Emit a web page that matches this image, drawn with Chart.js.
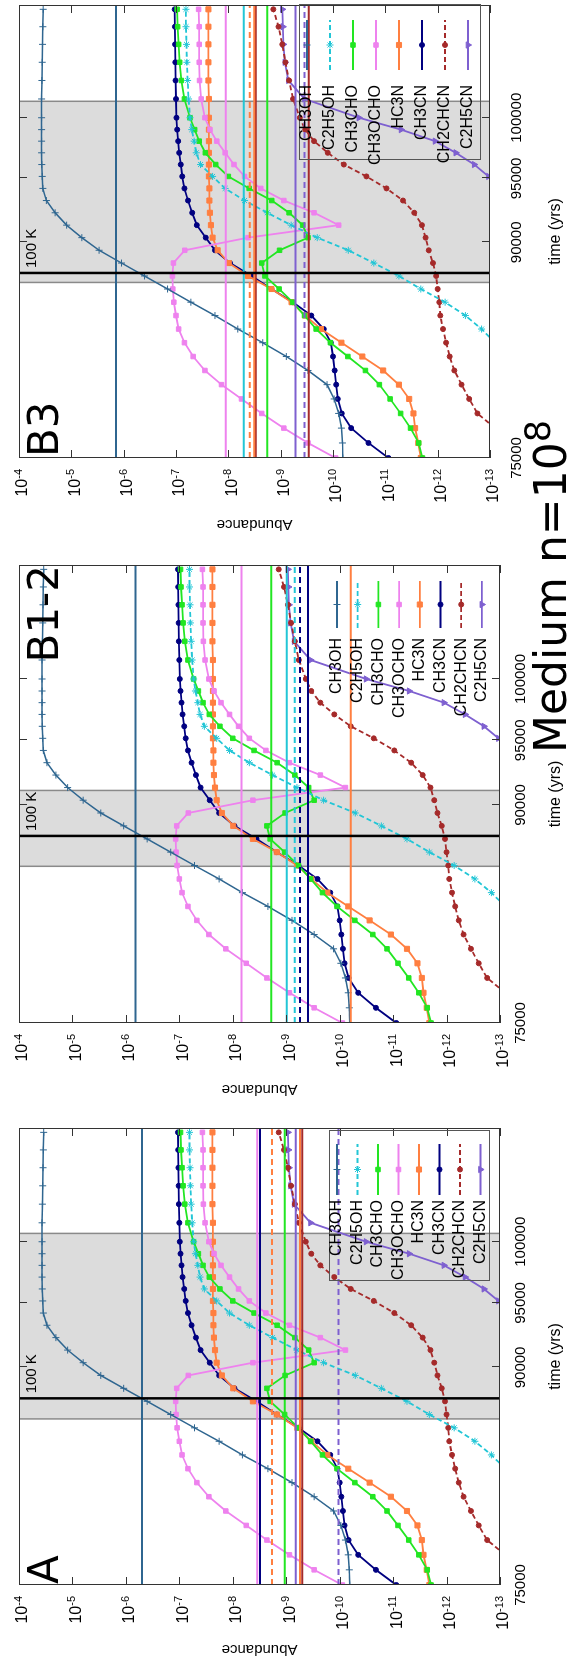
<!DOCTYPE html>
<html>
<head>
<meta charset="utf-8">
<script src="https://cdn.jsdelivr.net/npm/chart.js@4.4.1/dist/chart.umd.min.js"></script>
<style>
    html, body { margin: 0; padding: 0; background: #fff; overflow: hidden; }
    #figura {
        position: absolute; left: 0; top: 0;
        width: 1661px; height: 567px;
        transform-origin: 0 0;
        transform: translateY(1661px) rotate(-90deg);
    }
    #figura canvas { position: absolute; top: 0; }
    #titulo {
        position: absolute; left: 908px; top: 529px;
        font-family: "DejaVu Sans"; font-size: 44px; line-height: 44px;
        white-space: nowrap; color: #000;
    }
    #titulo sup { font-size: 35px; position: relative; top: -16px; vertical-align: baseline; }
</style>
</head>
<body>
<div id="figura">
    <canvas id="panelA" width="560" height="567" style="left:0"></canvas>
    <canvas id="panelB12" width="560" height="567" style="left:550px"></canvas>
    <canvas id="panelB3" width="551" height="567" style="left:1110px"></canvas>
    <div id="titulo">Medium n=10<sup>8</sup></div>
</div>
<script>
// --- Datos del modelo (abundancia relativa vs tiempo) ---
const tiempos = [75000, 75960, 76920, 77880, 78840, 79800, 80760, 81720, 82680, 83640, 84600,
    85560, 86520, 87480, 88440, 89400, 90360, 91320, 92280, 93240, 94200, 95160, 96120, 97080,
    98040, 99000, 100000, 101600, 103200, 104800, 106400, 108000, 109600];

const ch3oh = [6.5e-11, 6.6e-11, 6.9e-11, 7.8e-11, 9.5e-11, 1.3e-10, 3.0e-10, 7.8e-10, 2.2e-9, 6.6e-9,
    1.8e-8, 5.2e-8, 1.45e-7, 4.0e-7, 1.1e-6, 2.95e-6, 6.3e-6, 1.23e-5, 2.04e-5, 3.0e-5, 3.5e-5, 3.6e-5,
    3.67e-5, 3.7e-5, 3.7e-5, 3.7e-5, 3.7e-5, 3.7e-5, 3.65e-5, 3.6e-5, 3.55e-5, 3.5e-5, 3.45e-5];
const c2h5oh = [null, null, null, null, null, null, null, null, 8e-14, 1.45e-13, 2.95e-13, 7.2e-13,
    2.1e-12, 5.5e-12, 1.66e-11, 5.1e-11, 2.0e-10, 6.3e-10, 1.8e-9, 4.9e-9, 1.15e-8, 2.0e-8, 3.4e-8,
    4.1e-8, 4.5e-8, 5.0e-8, 5.4e-8, 5.75e-8, 6.0e-8, 6.2e-8, 6.3e-8, 6.45e-8, 6.45e-8];
const ch3cho = [1.95e-12, 2.3e-12, 3.3e-12, 5.1e-12, 8.1e-12, 1.3e-11, 2.4e-11, 5.2e-11, 1.12e-10,
    2.1e-10, 3.5e-10, 5.9e-10, 1.07e-9, 2.0e-9, 2.3e-9, 1.05e-9, 3.0e-10, 3.8e-10, 6.9e-10, 1.48e-9,
    4.0e-9, 1.0e-8, 1.74e-8, 2.75e-8, 3.6e-8, 4.4e-8, 5.4e-8, 6.9e-8, 7.9e-8, 8.5e-8, 8.9e-8, 9.3e-8, 9.5e-8];
const ch3ocho = [8.9e-11, 3.0e-10, 8.7e-10, 2.3e-9, 5.6e-9, 1.35e-8, 2.8e-8, 4.7e-8, 6.9e-8, 8.9e-8,
    1.0e-7, 1.1e-7, 1.15e-7, 1.17e-7, 1.12e-7, 6.8e-8, 4.2e-9, 7.8e-11, 2.3e-10, 8.7e-10, 2.4e-9, 4.9e-9,
    7.8e-9, 1.15e-8, 1.66e-8, 2.24e-8, 2.8e-8, 3.3e-8, 3.55e-8, 3.6e-8, 3.6e-8, 3.6e-8, 3.7e-8];
const hc3n = [2.1e-12, 2.35e-12, 2.7e-12, 2.9e-12, 3.5e-12, 5.5e-12, 1.1e-11, 2.75e-11, 6.9e-11,
    1.7e-10, 3.4e-10, 6.2e-10, 1.5e-9, 4.2e-9, 9.8e-9, 1.6e-8, 2.0e-8, 2.15e-8, 2.25e-8, 2.3e-8, 2.3e-8,
    2.35e-8, 2.35e-8, 2.35e-8, 2.35e-8, 2.35e-8, 2.35e-8, 2.35e-8, 2.4e-8, 2.4e-8, 2.4e-8, 2.4e-8, 2.4e-8];
const ch3cn = [8.7e-12, 2.1e-11, 4.5e-11, 6.8e-11, 8.1e-11, 8.7e-11, 9.3e-11, 1.0e-10, 1.1e-10,
    1.5e-10, 2.6e-10, 5.9e-10, 1.5e-9, 3.6e-9, 9.3e-9, 1.8e-8, 2.7e-8, 4.0e-8, 4.9e-8, 5.9e-8, 6.9e-8,
    7.6e-8, 8.1e-8, 8.7e-8, 9.1e-8, 9.5e-8, 9.8e-8, 1.0e-7, 1.02e-7, 1.03e-7, 1.04e-7, 1.05e-7, 1.06e-7];
const ch2chcn = [null, null, 8e-14, 1.74e-13, 2.5e-13, 3.5e-13, 4.8e-13, 5.9e-13, 6.9e-13, 7.9e-13,
    8.9e-13, 9.3e-13, 1.0e-12, 1.07e-12, 1.23e-12, 1.48e-12, 1.7e-12, 2.0e-12, 2.8e-12, 4.6e-12, 9.5e-12,
    2.3e-11, 6.2e-11, 1.26e-10, 2.3e-10, 3.4e-10, 4.3e-10, 5.8e-10, 6.9e-10, 8.1e-10, 9.3e-10, 1.1e-9, 1.38e-9];
const c2h5cn = [null, null, null, null, null, null, null, null, null, null, null, null, null, null,
    null, null, null, null, null, null, 3e-14, 1.07e-13, 2.0e-13, 4.5e-13, 1.12e-12, 5.0e-12, 3.2e-11,
    3.5e-10, 7.1e-10, 8.3e-10, 8.9e-10, 9.1e-10, 9.3e-10];

const especies = ['CH3OH', 'C2H5OH', 'CH3CHO', 'CH3OCHO', 'HC3N', 'CH3CN', 'CH2CHCN', 'C2H5CN'];
const series = [ch3oh, c2h5oh, ch3cho, ch3ocho, hc3n, ch3cn, ch2chcn, c2h5cn];

// --- Ejes ---
const ticksTiempo = [75000, 90000, 95000, 100000];
const ticksAbundancia = [1e-4, 1e-5, 1e-6, 1e-7, 1e-8, 1e-9, 1e-10, 1e-11, 1e-12, 1e-13];
const tiempoMin = 75000;
const tiempoMax = 110000;
const t100K = 87700;

// --- Observaciones por fuente (lineas horizontales) ---
const bandaA = [86200, 100700];
const obsEspecieA = ['CH3OH', 'CH3OCHO', 'CH3CN', 'HC3N', 'CH3CHO', 'C2H5CN', 'HC3N', 'CH2CHCN', 'C2H5CN'];
const obsValorA = [5.0e-7, 3.5e-9, 3.1e-9, 1.85e-9, 1.07e-9, 6.6e-10, 5.5e-10, 5.0e-10, 1.05e-10];
const obsLimiteA = [false, false, false, true, false, false, false, false, true];

const bandaB12 = [85500, 91100];
const obsEspecieB12 = ['CH3OH', 'CH3OCHO', 'CH3CHO', 'C2H5OH', 'C2H5OH', 'CH3CN', 'CH3CN', 'HC3N'];
const obsValorB12 = [6.6e-7, 6.9e-9, 1.9e-9, 9.8e-10, 6.9e-10, 5.5e-10, 3.9e-10, 6.2e-11];
const obsLimiteB12 = [false, false, false, false, true, true, false, false];

const bandaB3 = [87000, 101400];
const obsEspecieB3 = ['CH3OH', 'CH3OCHO', 'C2H5OH', 'HC3N', 'HC3N', 'CH2CHCN', 'CH3CHO', 'C2H5CN', 'C2H5CN', 'CH2CHCN'];
const obsValorB3 = [1.4e-6, 1.12e-8, 5.1e-9, 3.9e-9, 3.2e-9, 3.0e-9, 1.8e-9, 5.2e-10, 3.5e-10, 2.9e-10];
const obsLimiteB3 = [false, false, false, true, false, false, false, false, true, false];

// Estilo de cada especie
const colores = ['#2f6690', '#22c6d6', '#22e622', '#ee82ee', '#ff7f40', '#000080', '#a52a2a', '#7e60d0'];
const marcadores = ['cross', 'star', 'rect', 'rect', 'rect', 'circle', 'circle', 'triangle'];
const radios = [3.5, 3.5, 3.2, 3.2, 3.6, 2.5, 2.5, 3.6];
const discontinuas = [false, true, false, false, false, false, true, false];

const fuenteEjes = 'Liberation Sans';

function crearDatasets(p) {
    const ds = [];

    // curvas del modelo
    series.forEach((valores, k) => {
        ds.push({
            data: tiempos.map((t, i) => ({ x: t, y: valores[i] })),
            borderColor: colores[k],
            backgroundColor: colores[k],
            pointBackgroundColor: colores[k],
            pointBorderColor: colores[k],
            borderWidth: k === 0 ? 1.5 : 1.8,
            borderDash: discontinuas[k] ? [5, 3] : [],
            pointStyle: marcadores[k],
            pointRadius: radios[k],
            pointBorderWidth: 1,
            pointRotation: k === 7 ? 180 : 0,
            tension: 0,
            order: 3
        });
    });

    // valores observados
    p.obsEspecie.forEach((esp, i) => {
        const k = especies.indexOf(esp);
        ds.push({
            data: [{ x: tiempoMin, y: p.obsValor[i] }, { x: tiempoMax, y: p.obsValor[i] }],
            borderColor: colores[k],
            borderWidth: 2,
            borderDash: p.obsLimite[i] ? [6, 4] : [],
            pointRadius: 0,
            order: 2
        });
    });

    // linea de 100 K
    ds.push({
        data: [{ x: t100K, y: 1e-13 }, { x: t100K, y: 1e-4 }],
        borderColor: '#000',
        borderWidth: 2.5,
        pointRadius: 0,
        order: 1
    });
    return ds;
}

function linea(ctx, x0, y0, x1, y1) {
    ctx.beginPath();
    ctx.moveTo(x0, y0);
    ctx.lineTo(x1, y1);
    ctx.stroke();
}

function decorado(p) {
    return {
        id: 'decorado',
        beforeDatasetsDraw(chart) {
            const { ctx, chartArea: a, scales: { x } } = chart;
            const x0 = x.getPixelForValue(p.banda[0]);
            const x1 = x.getPixelForValue(p.banda[1]);
            ctx.save();
            ctx.fillStyle = '#dcdcdc';
            ctx.fillRect(x0, a.top, x1 - x0, a.bottom - a.top);
            ctx.strokeStyle = '#8a8a8a';
            ctx.lineWidth = 1.5;
            linea(ctx, x0, a.top, x0, a.bottom);
            linea(ctx, x1, a.top, x1, a.bottom);
            ctx.restore();
        },
        afterDatasetsDraw(chart) {
            const { ctx, chartArea: a, scales: { x, y } } = chart;
            ctx.save();

            // marco y marcas de los ejes
            ctx.strokeStyle = '#333';
            ctx.lineWidth = 1;
            ctx.strokeRect(a.left + 0.5, a.top + 0.5, a.right - a.left - 1, a.bottom - a.top - 1);
            ticksAbundancia.forEach(v => {
                const yy = Math.round(y.getPixelForValue(v)) + 0.5;
                linea(ctx, a.left, yy, a.left + 8, yy);
                linea(ctx, a.right - 8, yy, a.right, yy);
            });
            ticksTiempo.forEach(v => {
                const xx = Math.round(x.getPixelForValue(v)) + 0.5;
                linea(ctx, xx, a.bottom, xx, a.bottom - 8);
                linea(ctx, xx, a.top, xx, a.top + 8);
            });

            // etiquetas 10^n
            ctx.fillStyle = '#000';
            ticksAbundancia.forEach(v => {
                const yy = y.getPixelForValue(v);
                const exp = String(Math.round(Math.log10(v)));
                ctx.font = '11px "' + fuenteEjes + '"';
                const anchoExp = ctx.measureText(exp).width;
                const xr = a.left - 11;
                ctx.textAlign = 'left';
                ctx.textBaseline = 'middle';
                ctx.fillText(exp, xr - anchoExp, yy);
                ctx.font = '16px "' + fuenteEjes + '"';
                ctx.textAlign = 'right';
                ctx.fillText('10', xr - anchoExp, yy + 4);
            });

            // rotulo de la linea de 100 K
            ctx.font = '15px "' + fuenteEjes + '"';
            ctx.textAlign = 'left';
            ctx.textBaseline = 'alphabetic';
            ctx.fillText('100 K', x.getPixelForValue(t100K) + 5, a.top + 17);

            // nombre del panel
            ctx.font = '42px "DejaVu Sans"';
            ctx.textAlign = p.letraDerecha ? 'right' : 'left';
            ctx.fillText(p.letra, p.letraDerecha ? a.right : a.left + 1, a.top + 39);

            // leyenda
            const L = p.leyenda;
            if (L.caja) {
                ctx.strokeStyle = '#555';
                ctx.lineWidth = 1;
                ctx.strokeRect(a.right - L.caja[0] + 0.5, a.bottom - L.caja[1] + 0.5,
                    L.caja[0] - L.caja[2], L.caja[1] - L.caja[3]);
            }
            especies.forEach((esp, k) => {
                const yy = a.bottom - L.desdeAbajo + k * L.fila;
                ctx.font = '16px "' + fuenteEjes + '"';
                ctx.textAlign = 'right';
                ctx.textBaseline = 'middle';
                ctx.fillStyle = '#000';
                ctx.fillText(esp, a.right - L.texto, yy);

                ctx.strokeStyle = colores[k];
                ctx.fillStyle = colores[k];
                ctx.lineWidth = 1.8;
                ctx.setLineDash(discontinuas[k] ? [5, 3] : []);
                linea(ctx, a.right - L.muestra[0], yy, a.right - L.muestra[1], yy);
                ctx.setLineDash([]);
                ctx.lineWidth = 1;
                Chart.helpers.drawPoint(ctx, {
                    pointStyle: marcadores[k],
                    radius: radios[k],
                    rotation: k === 7 ? 180 : 0,
                    borderWidth: 1
                }, a.right - (L.muestra[0] + L.muestra[1]) / 2, yy);
            });
            ctx.restore();
        }
    };
}

function crearPanel(p) {
    return new Chart(document.getElementById(p.id), {
        type: 'line',
        data: { datasets: crearDatasets(p) },
        options: {
            responsive: false,
            animation: false,
            devicePixelRatio: 1,
            events: [],
            layout: { padding: { left: 0, right: p.padDer, top: 19, bottom: 0 } },
            plugins: {
                legend: { display: false },
                tooltip: { enabled: false }
            },
            scales: {
                x: {
                    type: 'logarithmic',
                    min: tiempoMin,
                    max: tiempoMax,
                    grid: { display: false, drawTicks: false },
                    border: { display: false },
                    afterBuildTicks: s => { s.ticks = ticksTiempo.map(v => ({ value: v })); },
                    afterFit: s => { s.height = p.altoX; },
                    ticks: {
                        autoSkip: false,
                        maxRotation: 0,
                        padding: p.padTicksX,
                        color: '#000',
                        font: { family: fuenteEjes, size: 15 },
                        callback: v => String(v)
                    },
                    title: {
                        display: true,
                        text: 'time (yrs)',
                        color: '#000',
                        font: { family: fuenteEjes, size: 16 },
                        padding: { top: 0, bottom: 2 }
                    }
                },
                y: {
                    type: 'logarithmic',
                    min: 1e-13,
                    max: 1e-4,
                    grid: { display: false, drawTicks: false },
                    border: { display: false },
                    afterBuildTicks: s => { s.ticks = ticksAbundancia.map(v => ({ value: v })); },
                    afterFit: s => { s.width = p.anchoY; },
                    ticks: { display: false },
                    title: {
                        display: true,
                        text: 'Abundance',
                        color: '#000',
                        font: { family: fuenteEjes, size: 15 },
                        padding: { top: p.padTituloY, bottom: 0 }
                    }
                }
            }
        },
        plugins: [decorado(p)]
    });
}

crearPanel({
    id: 'panelA', letra: 'A', letraDerecha: false,
    banda: bandaA, obsEspecie: obsEspecieA, obsValor: obsValorA, obsLimite: obsLimiteA,
    padDer: 27, anchoY: 76, altoX: 67, padTicksX: 12, padTituloY: 3,
    leyenda: { desdeAbajo: 163, fila: 20.5, texto: 72, muestra: [67, 16], caja: [153, 171, 3, 11] }
});

crearPanel({
    id: 'panelB12', letra: 'B1-2', letraDerecha: true,
    banda: bandaB12, obsEspecie: obsEspecieB12, obsValor: obsValorB12, obsLimite: obsLimiteB12,
    padDer: 14, anchoY: 88, altoX: 67, padTicksX: 12, padTituloY: 13,
    leyenda: { desdeAbajo: 163, fila: 20.7, texto: 73, muestra: [63, 16], caja: null }
});

crearPanel({
    id: 'panelB3', letra: 'B3', letraDerecha: false,
    banda: bandaB3, obsEspecie: obsEspecieB3, obsValor: obsValorB3, obsLimite: obsLimiteB3,
    padDer: 3, anchoY: 93, altoX: 77, padTicksX: 18, padTituloY: 18,
    leyenda: { desdeAbajo: 183, fila: 23, texto: 80, muestra: [65, 15], caja: [155, 191, 0, 10] }
});
</script>
</body>
</html>
